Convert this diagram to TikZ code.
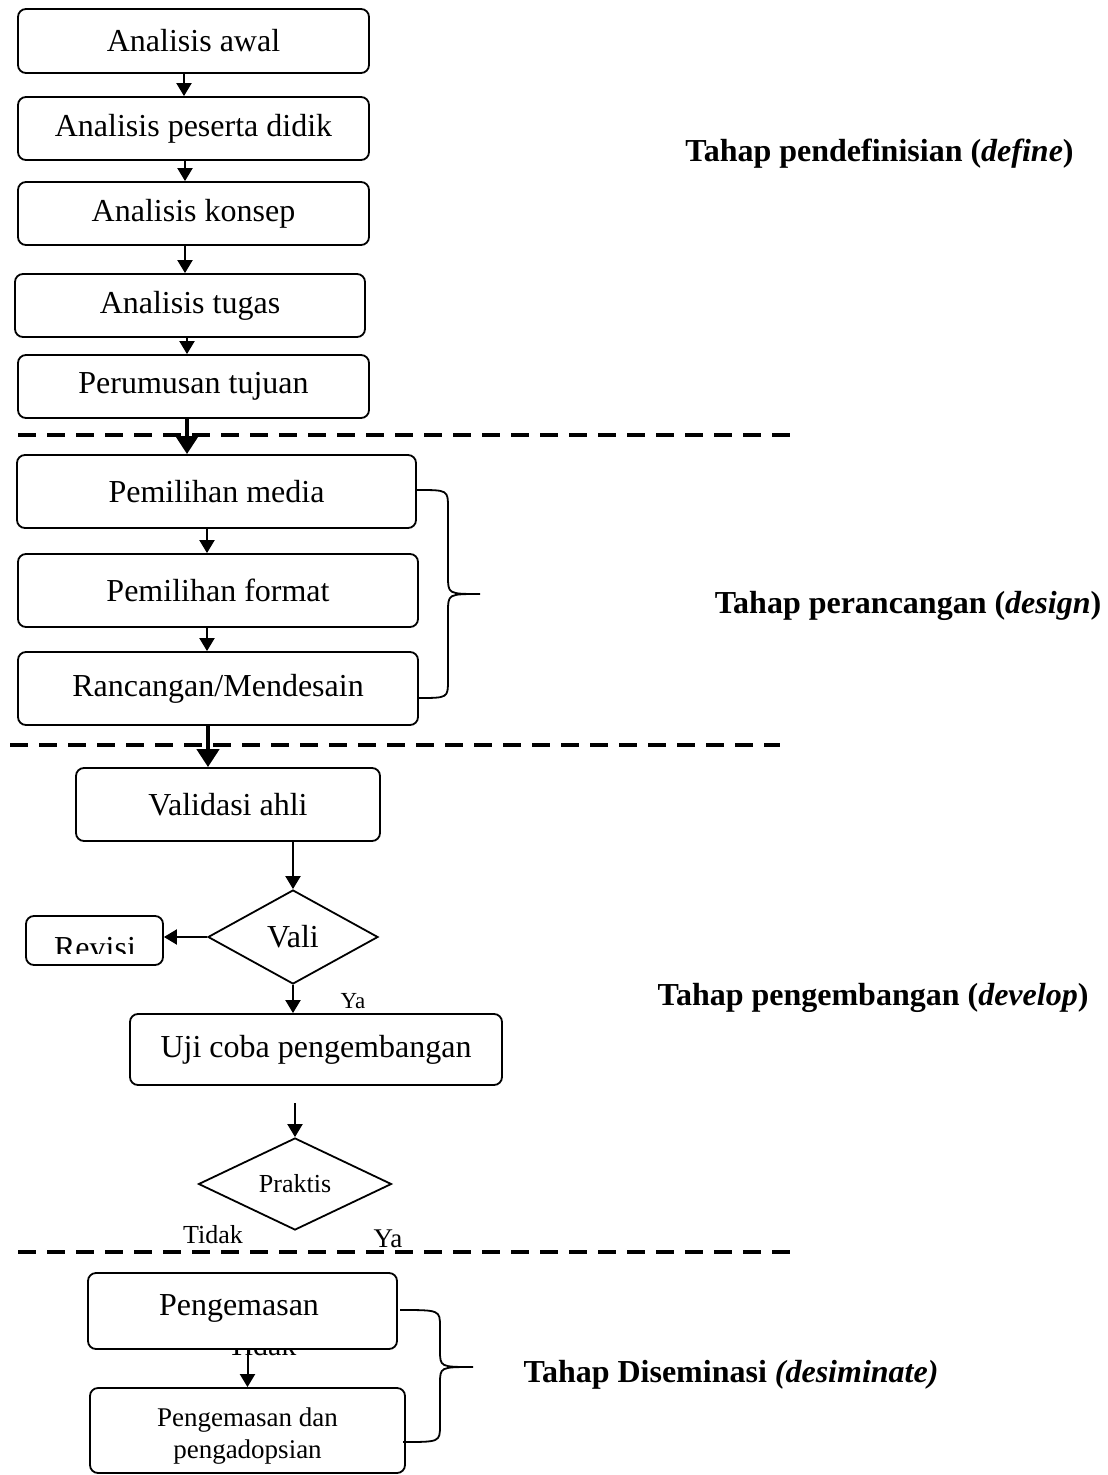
\documentclass[tikz,border=0pt]{standalone}
\usepackage{fontspec}
\setmainfont{Liberation Serif}
\usetikzlibrary{shapes.geometric,arrows.meta}
\begin{document}
\begin{tikzpicture}[x=0.5pt,y=-0.5pt,
 box/.style={draw,line width=0.9pt,rounded corners=4pt,fill=white,font=\fontsize{16}{19}\selectfont,inner sep=0pt},
 dia/.style={draw,diamond,line width=0.9pt,inner sep=0pt,fill=white},
 arr/.style={line width=1pt,-{Triangle[length=6.5pt,width=7.5pt]}},
 thk/.style={line width=2.2pt,-{Triangle[length=9pt,width=11pt]}},
 sep/.style={line width=2pt,dash pattern=on 9pt off 5.5pt},
 brc/.style={line width=0.9pt},
 lab/.style={font=\fontsize{16}{19}\selectfont\bfseries,anchor=base},
 txt/.style={anchor=base}]
\useasboundingbox (0,0) rectangle (1107,1475);

% separators
\draw[sep] (18,435) -- (790,435);
\draw[sep] (10,745) -- (780,745);
\draw[sep] (18,1252) -- (793,1252);

% define stage
\node[box,minimum width=175.5pt,minimum height=32pt] (a1) at (193.5,41) {Analisis awal};
\node[box,minimum width=175.5pt,minimum height=31.5pt] (a2) at (193.5,128.5) {Analisis peserta didik};
\node[box,minimum width=175.5pt,minimum height=31.5pt] (a3) at (193.5,213.5) {Analisis konsep};
\node[box,minimum width=175pt,minimum height=31.5pt] (a4) at (190,305.5) {Analisis tugas};
\node[box,minimum width=175.5pt,minimum height=31.5pt] (a5) at (193.5,386.5) {Perumusan tujuan};

% design stage
\node[box,minimum width=199.5pt,minimum height=36.5pt] (b1) at (216.5,491.5) {Pemilihan media};
\node[box,minimum width=200pt,minimum height=36.5pt] (b2) at (218,590.5) {Pemilihan format};
\node[box,minimum width=200pt,minimum height=36.5pt] (b3) at (218,688.5) {Rancangan/Mendesain};

% develop stage
\node[box,minimum width=152pt,minimum height=36.5pt] (vd) at (228,804.5) {Validasi ahli};
\node[dia,minimum width=85pt,minimum height=47pt,font=\fontsize{16}{19}\selectfont] (vali) at (293,937) {Vali};
\node[box,minimum width=68.5pt,minimum height=24.5pt] (rev) at (94.5,940.5) {};
\begin{scope}
\clip (20,900) rectangle (170,953);
\node[txt,font=\fontsize{16}{19}\selectfont] at (95,958) {Revisi};
\end{scope}
\node[box,minimum width=186pt,minimum height=35.5pt] (uji) at (316,1049.5) {Uji coba pengembangan};
\node[dia,minimum width=96.5pt,minimum height=46pt,font=\fontsize{13}{15}\selectfont] (pr) at (295,1184) {Praktis};
\coordinate (p0) at (295,1103);

% disseminate stage
\node[txt,font=\fontsize{15}{18}\selectfont] at (262,1355) {Tidak};
\node[box,minimum width=154.5pt,minimum height=38pt] (pk) at (242.5,1311) {};
\node[txt,font=\fontsize{16}{19}\selectfont] at (239,1315) {Pengemasan};
\node[box,minimum width=157.5pt,minimum height=42.5pt] (pkd) at (247.5,1430.5) {};
\node[txt,font=\fontsize{13.5}{16}\selectfont] at (247.5,1426) {Pengemasan dan};
\node[txt,font=\fontsize{13.5}{16}\selectfont] at (247.5,1458) {pengadopsian};

% arrows
\draw[arr] (184,0 |- a1.south) -- (184,0 |- a2.north);
\draw[arr] (185,0 |- a2.south) -- (185,0 |- a3.north);
\draw[arr] (185,0 |- a3.south) -- (185,0 |- a4.north);
\draw[arr] (187,0 |- a4.south) -- (187,0 |- a5.north);
\draw[thk] (187,0 |- a5.south) -- (187,0 |- b1.north);
\draw[arr] (207,0 |- b1.south) -- (207,0 |- b2.north);
\draw[arr] (207,0 |- b2.south) -- (207,0 |- b3.north);
\draw[thk] (208,0 |- b3.south) -- (208,0 |- vd.north);
\draw[arr] (vali.north |- vd.south) -- (vali.north);
\draw[arr] (vali.west) -- (vali.west -| rev.east);
\draw[arr] (vali.south) -- (vali.south |- uji.north);
\draw[arr] (pr.north |- p0) -- (pr.north);
\draw[arr] (pkd.north |- pk.south) -- (pkd.north);

% small labels
\node[txt,font=\fontsize{11.5}{14}\selectfont] (ya1) at (353,1008) {Ya};
\node[txt,font=\fontsize{13}{15}\selectfont] (td) at (213,1243) {Tidak};
\node[txt,font=\fontsize{13.5}{16}\selectfont] (ya2) at (388,1247) {Ya};

% braces
\coordinate (br1t) at (417,490);
\coordinate (br1b) at (418,698);
\coordinate (br1m) at (480,594);
\draw[brc] (br1t) .. controls (448,490) .. (448,508) -- (448,576) .. controls (448,594) .. (br1m)
  .. controls (448,594) .. (448,612) -- (448,680) .. controls (448,698) .. (br1b);
\coordinate (br2t) at (400,1310);
\coordinate (br2b) at (403,1442);
\coordinate (br2m) at (473,1367);
\draw[brc] (br2t) .. controls (440,1310) .. (440,1327) -- (440,1350) .. controls (440,1367) .. (br2m)
  .. controls (440,1367) .. (440,1384) -- (440,1425) .. controls (440,1442) .. (br2b);

% stage labels
\node[lab] (l1) at (879.5,162) {Tahap pendefinisian (\textit{define})};
\node[lab] (l2) at (908,613) {Tahap perancangan (\textit{design})};
\node[lab] (l3) at (873,1005) {Tahap pengembangan (\textit{develop})};
\node[lab] (l4) at (731,1382) {Tahap Diseminasi \textit{(desiminate)}};
\end{tikzpicture}
\end{document}
